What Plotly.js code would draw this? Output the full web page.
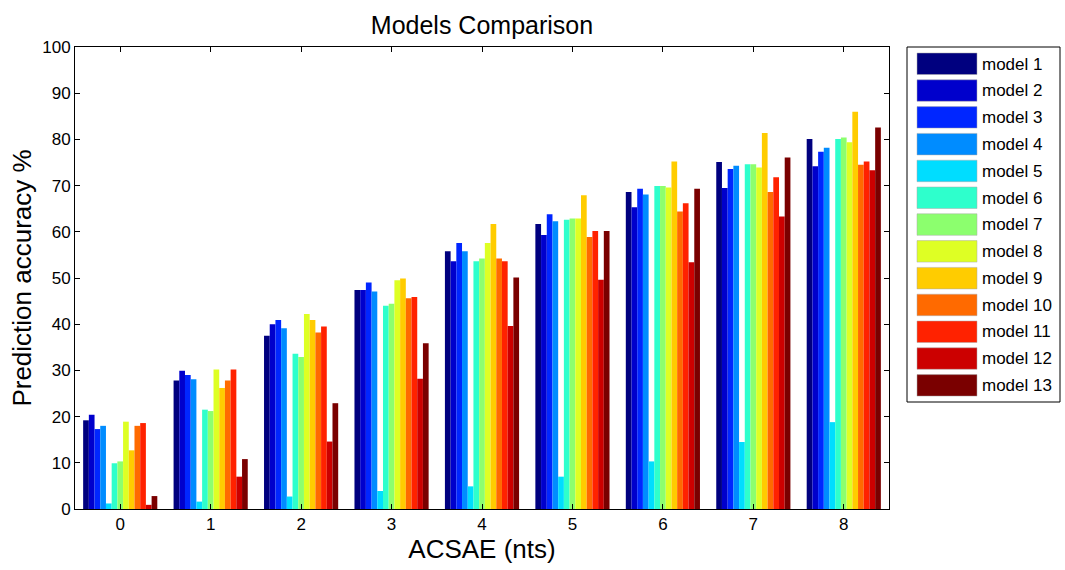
<!DOCTYPE html>
<html>
<head>
<meta charset="utf-8">
<script src="https://cdn.plot.ly/plotly-3.0.1.min.js"></script>
<style>html,body{margin:0;padding:0;background:#fff;}#chart{width:1065px;height:570px;}</style>
</head>
<body>
<div id="chart"></div>
<script>
const categories = [0, 1, 2, 3, 4, 5, 6, 7, 8];
const modelNames = ["model 1","model 2","model 3","model 4","model 5","model 6","model 7","model 8","model 9","model 10","model 11","model 12","model 13"];
const modelColors = ["#00007F","#0000CC","#0026FF","#008CFF","#00DDFF","#2EFFCC","#8CFF6E","#DEFF24","#FFCC00","#FF6A00","#FF2200","#CC0000","#7A0000"];
// values per category (rows = categories 0..8, columns = models 1..13)
const group0 = [19.2, 20.4, 17.3, 18.0, 1.2, 9.9, 10.3, 18.9, 12.7, 18.0, 18.6, 0.9, 2.8];
const group1 = [27.8, 29.9, 29.0, 28.1, 1.6, 21.5, 21.2, 30.2, 26.2, 27.8, 30.2, 7.0, 10.8];
const group2 = [37.5, 40.0, 40.9, 39.1, 2.7, 33.6, 32.9, 42.2, 40.9, 38.2, 39.5, 14.6, 22.9];
const group3 = [47.4, 47.4, 49.0, 47.1, 3.9, 44.0, 44.4, 49.5, 49.9, 45.6, 45.9, 28.2, 35.9];
const group4 = [55.8, 53.6, 57.6, 55.8, 4.9, 53.6, 54.2, 57.6, 61.7, 54.2, 53.6, 39.6, 50.1];
const group5 = [61.7, 59.3, 63.8, 62.3, 7.0, 62.6, 62.9, 62.9, 67.9, 58.9, 60.2, 49.6, 60.2];
const group6 = [68.6, 65.3, 69.3, 68.1, 10.3, 69.9, 69.9, 69.6, 75.2, 64.4, 66.2, 53.4, 69.3];
const group7 = [75.1, 69.5, 73.6, 74.3, 14.5, 74.6, 74.6, 73.9, 81.4, 68.6, 71.8, 63.3, 76.1];
const group8 = [80.1, 74.2, 77.3, 78.2, 18.8, 80.1, 80.4, 79.4, 86.0, 74.5, 75.2, 73.3, 82.6];
const groups = [group0, group1, group2, group3, group4, group5, group6, group7, group8];
const yTicks = [0,10,20,30,40,50,60,70,80,90,100];

const FONT = "Liberation Sans, Arial, Helvetica, sans-serif";

const traces = modelNames.map((name, m) => ({
  type: "bar",
  name: name,
  x: categories,
  y: groups.map(g => g[m]),
  marker: {color: modelColors[m], line: {width: 0}},
  showlegend: false,
  hovertemplate: name + ": %{y}<extra></extra>"
}));

// custom MATLAB-style legend (big swatches)
const plotL = 75, plotR = 889, plotT = 47, plotB = 509;
const px2x = px => (px - plotL) / (plotR - plotL);
const px2y = py => (plotB - py) / (plotB - plotT);
const shapes = [{
  type: "rect", xref: "paper", yref: "paper",
  x0: px2x(907), x1: px2x(1060), y0: px2y(402), y1: px2y(47),
  line: {color: "#000", width: 1}, fillcolor: "rgba(0,0,0,0)"
}];
const annotations = [];
modelNames.forEach((name, m) => {
  const top = 53 + m * 26.8;
  shapes.push({
    type: "rect", xref: "paper", yref: "paper",
    x0: px2x(917), x1: px2x(977), y0: px2y(top + 21.5), y1: px2y(top),
    line: {color: "#aaa", width: 0.5}, fillcolor: modelColors[m]
  });
  annotations.push({
    xref: "paper", yref: "paper", x: px2x(980), y: px2y(top + 11),
    xanchor: "left", yanchor: "middle", showarrow: false,
    text: name, font: {family: FONT, size: 17, color: "#000"}
  });
});

const layout = {
  width: 1065, height: 570,
  paper_bgcolor: "#fff", plot_bgcolor: "#fff",
  margin: {l: plotL, r: 1065 - plotR, t: plotT, b: 570 - plotB, pad: 0},
  barmode: "group", bargap: 0.18, bargroupgap: 0,
  title: {text: "Models Comparison", font: {family: FONT, size: 25, color: "#000"}, x: 0.5, xref: "paper", xanchor: "center", y: 1, yref: "paper", yanchor: "bottom", pad: {b: 13}},
  xaxis: {
    range: [-0.5, 8.5], tickmode: "array", tickvals: categories, ticktext: categories.map(String),
    showline: true, linecolor: "#000", linewidth: 1, mirror: "ticks",
    ticks: "inside", ticklen: 5, tickcolor: "#000", showgrid: false, zeroline: false,
    tickfont: {family: FONT, size: 17, color: "#000"},
    title: {text: "ACSAE (nts)", font: {family: FONT, size: 26, color: "#000"}, standoff: 3}
  },
  yaxis: {
    range: [0, 100], tickmode: "array", tickvals: yTicks, ticktext: yTicks.map(String),
    showline: true, linecolor: "#000", linewidth: 1, mirror: "ticks",
    ticks: "inside", ticklen: 5, tickcolor: "#000", showgrid: false, zeroline: false,
    tickfont: {family: FONT, size: 17, color: "#000"},
    title: {text: "Prediction accuracy %", font: {family: FONT, size: 26, color: "#000"}, standoff: 3}
  },
  shapes: shapes,
  annotations: annotations,
  showlegend: false
};

Plotly.newPlot("chart", traces, layout, {displayModeBar: false, staticPlot: true});
</script>
</body>
</html>
